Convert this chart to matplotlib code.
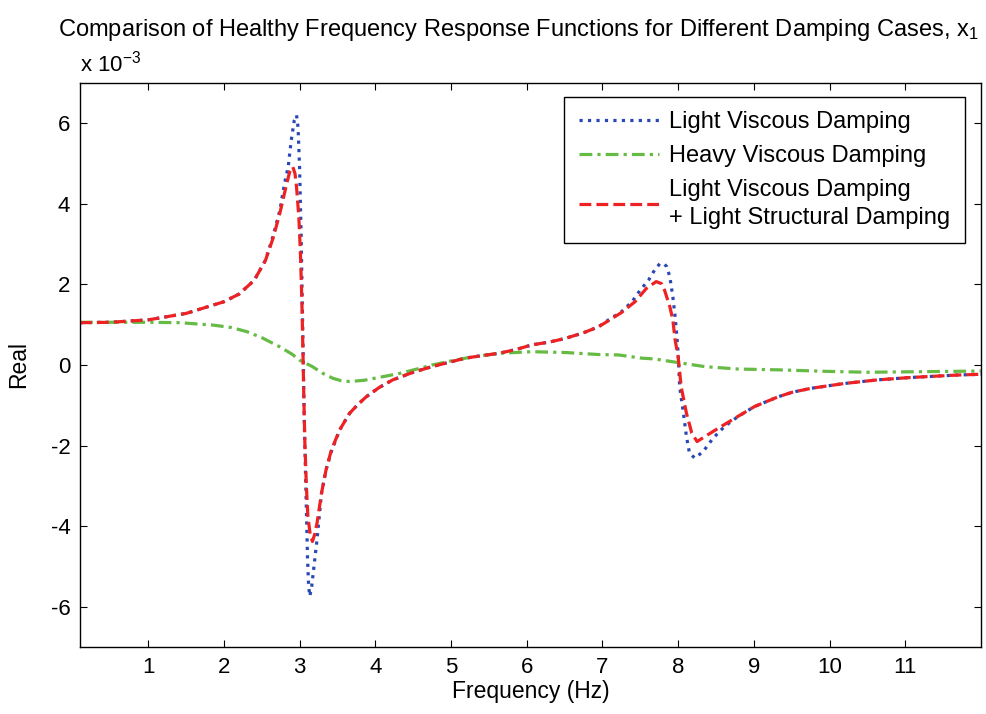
import numpy as np
import matplotlib
matplotlib.use('Agg')
from matplotlib import pyplot as plt

plt.rcParams['font.family'] = ['Liberation Sans', 'DejaVu Sans']
plt.rcParams['mathtext.fontset'] = 'custom'
plt.rcParams['mathtext.rm'] = 'Liberation Sans'
plt.rcParams['mathtext.it'] = 'Liberation Sans'
plt.rcParams['axes.unicode_minus'] = False

# values, y in units of 1e-3
freq_light = [0.1, 0.5, 1.0, 1.5, 2.0, 2.2, 2.4, 2.55, 2.65, 2.74, 2.8, 2.85, 2.89, 2.93, 2.96,
              2.98, 3.0, 3.02, 3.035, 3.05, 3.06, 3.075, 3.09, 3.105, 3.12, 3.135, 3.16, 3.18,
              3.23, 3.26, 3.29, 3.35, 3.42, 3.53, 3.66, 3.77, 3.88, 4.05, 4.23, 4.5, 4.75, 5.0,
              5.19, 5.4, 5.63, 5.85, 6.07, 6.3, 6.51, 6.75, 6.95, 7.08, 7.25, 7.39, 7.5, 7.61,
              7.69, 7.76, 7.82, 7.85, 7.89, 7.93, 7.96, 7.98, 8.0, 8.02, 8.07, 8.11, 8.15, 8.22,
              8.33, 8.46, 8.61, 8.79, 9.01, 9.32, 9.5, 9.75, 10.19, 10.63, 11.07, 11.68, 12.0]
real_light = [1.05, 1.06, 1.12, 1.28, 1.57, 1.76, 2.1, 2.6, 3.2, 3.84, 4.5, 4.92, 5.58, 6.07, 6.2,
              5.9, 4.9, 3.3, 1.6, 0.0, -1.2, -2.4, -3.6, -4.8, -5.5, -5.74, -5.5, -5.17,
              -4.34, -3.76, -3.18, -2.6, -2.15, -1.61, -1.2, -0.98, -0.79, -0.56, -0.37, -0.18, -0.04, 0.08,
              0.17, 0.23, 0.29, 0.38, 0.5, 0.57, 0.66, 0.8, 0.95, 1.12, 1.32, 1.57, 1.86, 2.11,
              2.36, 2.52, 2.5, 2.44, 2.19, 1.69, 1.2, 0.78, 0.29, -0.54, -1.2, -1.78, -2.19, -2.31,
              -2.15, -1.82, -1.53, -1.28, -1.03, -0.79, -0.68, -0.58, -0.46, -0.37, -0.31, -0.25, -0.23]

freq_heavy = [0.1, 0.6, 1.0, 1.42, 1.86, 2.1, 2.3, 2.5, 2.74, 2.9, 3.0, 3.17, 3.3, 3.44, 3.55, 3.66,
              3.85, 4.1, 4.32, 4.55, 4.75, 5.0, 5.19, 5.4, 5.63, 6.07, 6.51, 6.95, 7.21, 7.52,
              7.69, 8.0, 8.35, 8.79, 9.32, 10.0, 10.5, 11.0, 11.5, 12.0]
real_heavy = [1.06, 1.06, 1.06, 1.05, 0.99, 0.93, 0.83, 0.68, 0.45, 0.27, 0.12, -0.04, -0.2, -0.33, -0.39, -0.41,
              -0.38, -0.29, -0.21, -0.1, 0.0, 0.1, 0.17, 0.23, 0.29, 0.33, 0.31, 0.26, 0.25, 0.17,
              0.15, 0.06, -0.04, -0.1, -0.12, -0.16, -0.18, -0.17, -0.16, -0.15]

freq_struct = [0.1, 0.5, 1.0, 1.5, 2.0, 2.2, 2.4, 2.55, 2.65, 2.74, 2.82, 2.87, 2.91, 2.94, 2.96,
               2.99, 3.01, 3.03, 3.045, 3.055, 3.07, 3.09, 3.11, 3.14, 3.17, 3.2, 3.23, 3.29,
               3.35, 3.42, 3.53, 3.66, 3.77, 3.88, 4.05, 4.23, 4.5, 4.75, 5.0, 5.19, 5.4, 5.63,
               5.85, 6.07, 6.3, 6.51, 6.75, 6.95, 7.08, 7.25, 7.43, 7.58, 7.71, 7.78, 7.82, 7.89,
               7.93, 7.96, 8.0, 8.04, 8.11, 8.18, 8.25, 8.35, 8.53, 8.75, 9.01, 9.32, 9.5, 9.75,
               10.19, 10.63, 11.07, 11.68, 12.0]
real_struct = [1.05, 1.06, 1.12, 1.28, 1.57, 1.76, 2.1, 2.6, 3.15, 3.77, 4.42, 4.8, 4.92, 4.75, 4.42,
               3.68, 2.85, 1.61, 0.3, -0.7, -1.94, -3.02, -3.76, -4.2, -4.38, -4.2, -3.93, -3.18,
               -2.6, -2.11, -1.61, -1.2, -0.98, -0.79, -0.56, -0.37, -0.18, -0.04, 0.08, 0.17, 0.23, 0.29,
               0.38, 0.5, 0.57, 0.66, 0.8, 0.95, 1.1, 1.3, 1.57, 1.9, 2.07, 2.02, 1.86, 1.45,
               1.12, 0.62, 0.21, -0.54, -1.2, -1.69, -1.9, -1.78, -1.57, -1.32, -1.03, -0.79, -0.68, -0.58,
               -0.46, -0.37, -0.31, -0.25, -0.23]

labels = ['Light Viscous Damping', 'Heavy Viscous Damping',
          'Light Viscous Damping\n+ Light Structural Damping']

fig = plt.figure(figsize=(9.87, 7.14), dpi=100)
ax = fig.add_axes([80/987, 1-647/714, 901/987, 564/714])

ax.plot(freq_light, real_light, ':', color='#2a48b5', lw=2.3, label=labels[0])
ax.plot(freq_heavy, real_heavy, '-.', color='#66bb44', lw=2.3, dashes=(4, 1.6, 1, 1.6), label=labels[1])
ax.plot(freq_struct, real_struct, '--', color='#ee2222', lw=2.3, label=labels[2])

ax.set_xlim(0.1, 12)
ax.set_ylim(-7, 7)
ax.set_xticks(range(1, 12))
ax.set_yticks([-6, -4, -2, 0, 2, 4, 6])
ax.tick_params(direction='in', length=5, width=0.8, top=True, right=True, labelsize=16, pad=7)
for s in ax.spines.values():
    s.set_linewidth(1)

ax.set_xlabel('Frequency (Hz)', fontsize=16.5)
ax.set_ylabel('Real', fontsize=16.5)
ax.xaxis.set_label_coords(0.5, -33/564)
ax.yaxis.set_label_coords(-50/901, 0.5)

fig.text(518/987, 1-30/714, 'Comparison of Healthy Frequency Response Functions for Different Damping Cases, x$_1$',
         ha='center', va='center', fontsize=17)
fig.text(80/987, 1-64/714, 'x 10$^{-3}$', ha='left', va='center', fontsize=16)

leg = ax.legend(loc='upper right', bbox_to_anchor=(0.982, 0.975), borderaxespad=0,
                fontsize=17, handlelength=3.4, handletextpad=0.45, fancybox=False,
                edgecolor='black', framealpha=1, labelspacing=0.5, borderpad=0.6)
leg.get_frame().set_linewidth(1)
for t in leg.get_texts():
    t.set_linespacing(1.35)

fig.savefig('out.png', dpi=100)
